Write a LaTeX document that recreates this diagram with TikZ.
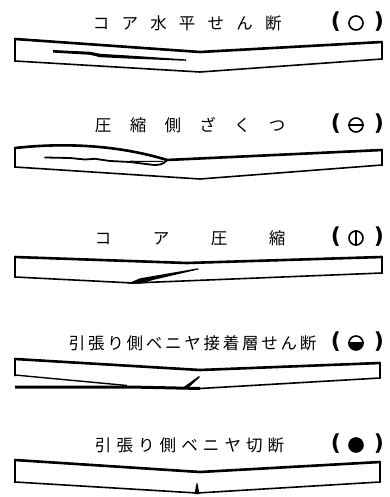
\documentclass[tikz,border=0pt]{standalone}
\usepackage{fontspec}
\newfontfamily\jfont{Noto Sans CJK JP}
\newfontfamily\pfont{DejaVu Sans}
\newlength\pitch
\newcommand\cb[1]{\makebox[\pitch][c]{#1}}
\tikzset{
  title/.style={anchor=west, inner sep=0pt, font=\jfont\fontsize{16.5}{16.5}\selectfont},
  paren/.style={inner sep=0pt, font=\pfont\bfseries\fontsize{22}{22}\selectfont},
  mark circ/.style={circle, draw, line width=1.6pt, minimum size=14pt, inner sep=0pt},
  beam/.style={line width=1.6pt, line join=miter},
  face/.style={line width=2.6pt, line join=miter},
}
\begin{document}
\begin{tikzpicture}[x=1pt, y=-1pt]
\useasboundingbox (0,0) rectangle (389,497);

% ---- 1: core horizontal shear ----
\node[title] (t1) at (86.6,23) {\setlength\pitch{28.7pt}\cb{コ}\cb{ア}\cb{水}\cb{平}\cb{せ}\cb{ん}\cb{断}};
\node[paren] (l1) at (336,22) {(};
\node[mark circ] (s1) at (356,23) {};
\node[paren] (r1) at (379,22) {)};
\draw[beam] (15,39) -- (200,52) -- (382,42) -- (382,59) -- (200,72) -- (15,61) -- cycle;
\draw[face] (15,39) -- (200,52) -- (382,42);
\fill (53,50) -- (90,51.8) -- (100,53.8) -- (130,55.6) -- (186,59.4) -- (186,60.8) -- (130,58.6) -- (100,57.2) -- (90,54.8) -- (53,52.6) -- cycle;

% ---- 2: compression side buckling ----
\node[title] (t2) at (85.6,125) {\setlength\pitch{34.8pt}\cb{圧}\cb{縮}\cb{側}\cb{ざ}\cb{く}\cb{つ}};
\node[paren] (l2) at (336,124) {(};
\node[mark circ] (s2) at (356,125) {};
\draw[line width=1.5pt] (s2.west) -- (s2.east);
\node[paren] (r2) at (379,124) {)};
\draw[beam] (15,148) .. controls (60,143) and (115,144) .. (167,160) -- (382,150) -- (382,165) -- (200,179) -- (15,167) -- cycle;
\draw[face] (15,148) .. controls (60,143) and (115,144) .. (167,160) -- (382,150);
\draw[line width=1.8pt, line cap=round] (45,157.5) -- (70,158) -- (85,159.5) -- (95,158.8) -- (110,161) -- (130,162) -- (150,164.5) .. controls (159,166) and (164,164) .. (167,160);
\draw[line width=1pt] (130,161) .. controls (145,162) and (155,161) .. (163,161.5);

% ---- 3: core compression ----
\node[title] (t3) at (74,238) {\setlength\pitch{58pt}\cb{コ}\cb{ア}\cb{圧}\cb{縮}};
\node[paren] (l3) at (336,237) {(};
\node[mark circ] (s3) at (356,238) {};
\draw[line width=1.5pt] (s3.north) -- (s3.south);
\node[paren] (r3) at (379,237) {)};
\draw[beam] (15,257) -- (187,263) -- (382,257) -- (382,273) -- (133,283) -- (15,277) -- cycle;
\draw[face] (15,257) -- (187,263) -- (382,257);
\fill (128,283.5) -- (140,278.3) -- (198,268.3) -- (199,269.3) -- (152,280.2) -- (142,283.5) -- cycle;

% ---- 4: tension side veneer glue-line shear ----
\node[title] (t4) at (67.4,343) {\setlength\pitch{19.25pt}\cb{引}\cb{張}\cb{り}\cb{側}\cb{ベ}\cb{ニ}\cb{ヤ}\cb{接}\cb{着}\cb{層}\cb{せ}\cb{ん}\cb{断}};
\node[paren] (l4) at (336,342) {(};
\node[mark circ] (s4) at (356,343) {};
\fill (s4.west) arc[start angle=180, end angle=360, radius=7pt] -- cycle;
\draw[line width=1.2pt] (s4.west) -- (s4.east);
\node[paren] (r4) at (379,342) {)};
\draw[beam] (15,376) -- (15,359) -- (200,370) -- (380,363) -- (380,378) -- (200,388.5);
\draw[face] (15,359) -- (200,370) -- (380,363);
\draw[line width=1.4pt] (15,375) -- (127,385.5);
\draw[line width=3pt] (15,387) -- (130,387) -- (200,388.5);
\fill (181,389) -- (199,376) -- (200,377) -- (187,389) -- cycle;

% ---- 5: tension side veneer fracture ----
\node[title] (t5) at (92.2,445) {\setlength\pitch{21.6pt}\cb{引}\cb{張}\cb{り}\cb{側}\cb{ベ}\cb{ニ}\cb{ヤ}\cb{切}\cb{断}};
\node[paren] (l5) at (336,444) {(};
\node[mark circ, fill=black] (s5) at (356,445) {};
\node[paren] (r5) at (379,444) {)};
\draw[beam] (15,460) -- (200,472) -- (380,462) -- (380,482) -- (197,493) -- (15,482) -- cycle;
\draw[face] (15,460) -- (200,472) -- (380,462);
\fill (194.5,494) -- (196.6,483) -- (197.4,483) -- (199.5,494) -- cycle;
\end{tikzpicture}
\end{document}
